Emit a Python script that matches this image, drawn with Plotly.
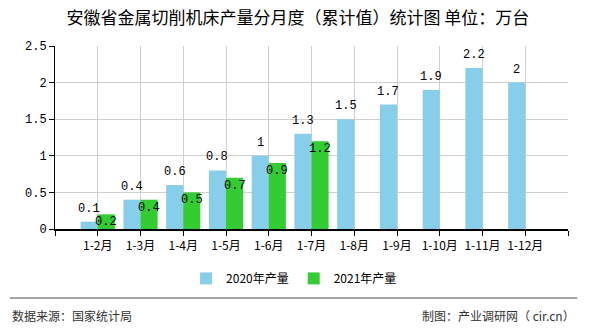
import plotly.graph_objects as go

categories = ["1-2月", "1-3月", "1-4月", "1-5月", "1-6月", "1-7月", "1-8月", "1-9月", "1-10月", "1-11月", "1-12月"]
values_2020 = [0.1, 0.4, 0.6, 0.8, 1, 1.3, 1.5, 1.7, 1.9, 2.2, 2]
values_2021 = [0.2, 0.4, 0.5, 0.7, 0.9, 1.2]
series_names = ["2020年产量", "2021年产量"]
y_ticks = [0, 0.5, 1, 1.5, 2, 2.5]
y_ticktext = ["0", "0.5", "1", "1.5", "2", "2.5"]

BLUE = "#87CEEB"
GREEN = "#33CC33"
FONT = "Noto Sans CJK SC"
MONO = "Liberation Mono"

idx20 = list(range(len(values_2020)))
idx21 = list(range(len(values_2021)))

fig = go.Figure()
fig.add_bar(x=idx20, y=values_2020, name=series_names[0], marker=dict(color=BLUE, line=dict(width=0)), offsetgroup="a")
fig.add_bar(x=idx21, y=values_2021, name=series_names[1], marker=dict(color=GREEN, line=dict(width=0)), offsetgroup="b")

# value labels
for i, v in zip(idx20, values_2020):
    fig.add_annotation(x=i - 0.2, y=v, text=f"{v:g}", showarrow=False, xanchor="center",
                       yanchor="middle", yshift=13, font=dict(family=MONO, size=12, color="#000"))
for i, v in zip(idx21, values_2021):
    fig.add_annotation(x=i + 0.2, y=v, text=f"{v:g}", showarrow=False, xanchor="center",
                       yanchor="middle", yshift=-8, font=dict(family=MONO, size=12, color="#000"))

n = len(categories)
tickvals = [-1] + list(range(n)) + [n]
ticktext = [""] + categories + [""]

fig.update_layout(
    width=590, height=330,
    margin=dict(l=55, r=22, t=46, b=101),
    paper_bgcolor="white", plot_bgcolor="white",
    barmode="group", bargap=0.2, bargroupgap=0,
    font=dict(family=FONT, size=12, color="#000"),
    title=dict(text="安徽省金属切削机床产量分月度（累计值）统计图 单位：万台",
               x=0.505, xanchor="center", y=1 - 18 / 330, yanchor="middle",
               font=dict(family=FONT, size=17, color="#000")),
    legend=dict(orientation="h", x=0.466, xanchor="center", y=-0.27, yanchor="middle",
                font=dict(family=FONT, size=12), itemwidth=30, traceorder="normal"),
    xaxis=dict(range=[-1, n], tickvals=tickvals, ticktext=ticktext,
               showgrid=True, gridcolor="#d0d0d0", gridwidth=1,
               showline=True, linecolor="#000", linewidth=1.5,
               ticks="outside", ticklen=5, tickcolor="#000",
               tickfont=dict(family=FONT, size=12), zeroline=False, mirror=False),
    yaxis=dict(range=[0, 2.5], tickvals=y_ticks, ticktext=y_ticktext,
               showgrid=True, gridcolor="#d0d0d0", gridwidth=1,
               showline=True, linecolor="#000", linewidth=1,
               ticks="outside", ticklen=5, tickcolor="#000",
               tickfont=dict(family=MONO, size=12), zeroline=False),
    showlegend=True,
)

# footer rule and texts
fig.add_shape(type="line", xref="paper", yref="paper", x0=-0.088, x1=1.018,
              y0=-0.377, y1=-0.377, line=dict(color="#888", width=1.5))
fig.add_annotation(text="数据来源：国家统计局", xref="paper", yref="paper",
                   x=-0.088, y=-0.47, xanchor="left", yanchor="middle", showarrow=False,
                   font=dict(family=FONT, size=12, color="#333"))
fig.add_annotation(text="制图：产业调研网（ cir.cn）", xref="paper", yref="paper",
                   x=1.018, y=-0.47, xanchor="right", yanchor="middle", showarrow=False,
                   font=dict(family=FONT, size=12, color="#333"))

fig.write_html("out.html")
